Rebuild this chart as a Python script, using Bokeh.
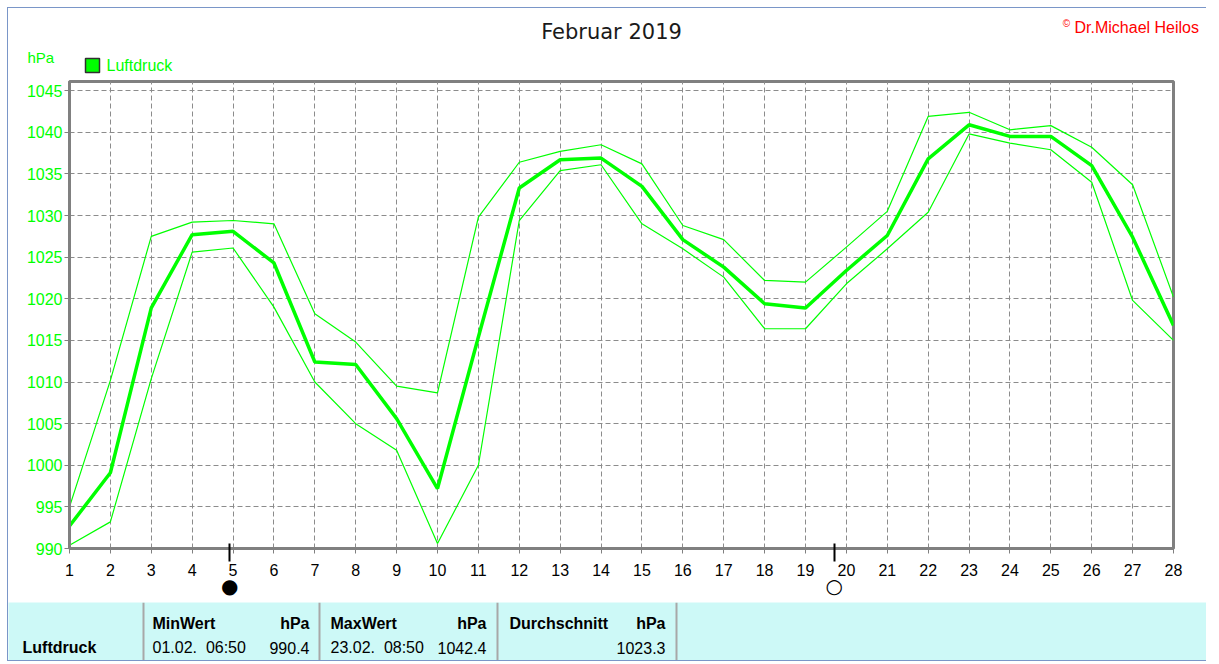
from bokeh.plotting import figure
from bokeh.models import Range1d, FixedTicker, LinearAxis, Span
from bokeh.layouts import column
from bokeh.embed import file_html
from bokeh.resources import INLINE
from bokeh.core.properties import value

# ---------------- data ----------------
days = list(range(1, 29))
p_mean = [992.7, 999.1, 1018.9, 1027.7, 1028.1, 1024.3, 1012.4, 1012.1, 1005.6, 997.2,
          1015.4, 1033.3, 1036.7, 1036.9, 1033.5, 1027.1, 1023.8, 1019.4, 1018.9, 1023.4,
          1027.6, 1036.8, 1040.9, 1039.5, 1039.5, 1036.0, 1027.4, 1016.8]
p_max = [995.0, 1010.2, 1027.5, 1029.2, 1029.4, 1029.0, 1018.2, 1014.8, 1009.5, 1008.7,
         1029.8, 1036.4, 1037.7, 1038.5, 1036.2, 1028.8, 1027.1, 1022.2, 1022.0, 1026.2,
         1030.5, 1041.9, 1042.4, 1040.3, 1040.8, 1038.2, 1033.7, 1020.2]
p_min = [990.4, 993.2, 1010.4, 1025.6, 1026.1, 1019.0, 1010.0, 1005.0, 1001.8, 990.6,
         1000.0, 1029.4, 1035.4, 1036.1, 1029.0, 1026.0, 1022.6, 1016.4, 1016.4, 1021.8,
         1026.0, 1030.4, 1039.8, 1038.7, 1037.9, 1034.0, 1019.8, 1015.0]
y_ticks = [990, 995, 1000, 1005, 1010, 1015, 1020, 1025, 1030, 1035, 1040, 1045]
moon_days = [4.92, 19.70]          # new moon, full moon
moon_symbols = ["\u25cf", "\u25cb"]

title_text = "Februar 2019"
unit_text = "hPa"
series_name = "Luftdruck"
copyright_text = "Dr.Michael Heilos"

tbl_headers = ["MinWert", "MaxWert", "Durchschnitt"]
tbl_times = ["01.02.\u00a0 06:50", "23.02.\u00a0 08:50", ""]
tbl_values = ["990.4", "1042.4", "1023.3"]

GREEN = "#00ff00"
GRID = "#8c8c8c"
FRAME = "#808080"
FONT = "Liberation Sans"
BLUE = "1px solid #7a96c8"
W = 1198

# ---------------- top strip: title, copyright, unit, legend ----------------
TOPH = 68
top = figure(width=W, height=TOPH, x_range=Range1d(0, W), y_range=Range1d(0, TOPH),
             output_backend="svg", toolbar_location=None, frame_align=False,
             x_axis_location=None, y_axis_location=None, min_border=0)
top.grid.visible = False
top.outline_line_color = None
top.background_fill_color = "white"
top.border_fill_color = "white"

top.text(x=[603], y=[45], text=[title_text], text_font=value("DejaVu Sans"),
         text_font_size="21px", text_color="#1a1a1a", text_align="center",
         text_baseline="middle")
top.text(x=[1058], y=[53], text=["\u00a9"], text_font=value(FONT), text_font_size="10px",
         text_color="#ff0000", text_align="center", text_baseline="middle")
top.text(x=[1066], y=[49], text=[copyright_text], text_font=value(FONT),
         text_font_size="16px", text_color="#ff0000", text_align="left",
         text_baseline="middle")
top.text(x=[19], y=[19], text=[unit_text], text_font=value(FONT), text_font_size="15px",
         text_color=GREEN, text_align="left", text_baseline="middle")
top.rect(x=[84], y=[11], width=14, height=14, fill_color=GREEN, line_color="#303030",
         line_width=1.5)
top.text(x=[98], y=[11], text=[series_name], text_font=value(FONT), text_font_size="16px",
         text_color=GREEN, text_align="left", text_baseline="middle")

# ---------------- main chart ----------------
p = figure(frame_width=1104, frame_height=467, x_range=Range1d(1, 28),
           y_range=Range1d(990, 1046.1), output_backend="svg", toolbar_location=None,
           x_axis_location=None, frame_align=False,
           min_border_left=61, min_border_right=33, min_border_top=5, min_border_bottom=54)
p.background_fill_color = "white"
p.border_fill_color = "white"
p.outline_line_color = FRAME
p.outline_line_width = 3

p.xgrid.ticker = FixedTicker(ticks=days)
p.ygrid.ticker = FixedTicker(ticks=y_ticks)
for g in (p.xgrid, p.ygrid):
    g.grid_line_color = GRID
    g.grid_line_dash = "5 3"
    g.grid_line_width = 1

# axis 1: small grey day ticks (no labels)
ax_ticks = LinearAxis(ticker=FixedTicker(ticks=days), major_tick_in=0, major_tick_out=5,
                      minor_tick_in=0, minor_tick_out=0, major_tick_line_color=FRAME,
                      axis_line_color=FRAME, axis_line_width=3,
                      major_label_text_color=None, major_label_standoff=0)
# axis 2: moon phase tick marks (no labels)
ax_moon = LinearAxis(ticker=FixedTicker(ticks=moon_days), major_tick_in=10, major_tick_out=8,
                     minor_tick_in=0, minor_tick_out=0, major_tick_line_color="black",
                     major_tick_line_width=2, axis_line_color=None,
                     major_label_text_color=None, major_label_standoff=0)
# axis 3: day labels
ax_days = LinearAxis(ticker=FixedTicker(ticks=days), major_tick_in=0, major_tick_out=0,
                     minor_tick_in=0, minor_tick_out=0, axis_line_color=None,
                     major_label_text_font=FONT, major_label_text_font_size="16px",
                     major_label_text_color="black", major_label_standoff=2)
# axis 4: moon phase symbols
ax_sym = LinearAxis(ticker=FixedTicker(ticks=moon_days), major_tick_in=0, major_tick_out=0,
                    minor_tick_in=0, minor_tick_out=0, axis_line_color=None,
                    major_label_overrides=dict(zip(moon_days, moon_symbols)),
                    major_label_text_font="DejaVu Sans", major_label_text_font_size="20px",
                    major_label_text_font_style="bold",
                    major_label_text_color="black", major_label_standoff=-5)
for ax in (ax_ticks, ax_moon, ax_days, ax_sym):
    p.add_layout(ax, "below")

p.yaxis.ticker = FixedTicker(ticks=y_ticks)
p.yaxis.major_label_text_font = FONT
p.yaxis.major_label_text_font_size = "16px"
p.yaxis.major_label_text_color = GREEN
p.yaxis.major_tick_out = 5
p.yaxis.major_tick_in = 0
p.yaxis.minor_tick_out = 0
p.yaxis.minor_tick_in = 0
p.yaxis.major_tick_line_color = FRAME
p.yaxis.axis_line_color = FRAME
p.yaxis.axis_line_width = 3
p.yaxis.major_label_standoff = 2

p.line(days, p_max, line_color=GREEN, line_width=1.2)
p.line(days, p_min, line_color=GREEN, line_width=1.2)
p.line(days, p_mean, line_color=GREEN, line_width=3.5)

# ---------------- statistics table ----------------
TH = 58
t = figure(width=W, height=TH, x_range=Range1d(0, W), y_range=Range1d(0, TH),
           output_backend="svg", toolbar_location=None, frame_align=False,
           x_axis_location=None, y_axis_location=None, min_border=0)
t.grid.visible = False
t.outline_line_color = None
t.background_fill_color = "#cdf9f7"
t.border_fill_color = "white"

for xs in (135, 311, 489, 668):
    t.add_layout(Span(location=xs, dimension="height", line_color="#a8a8a8", line_width=2))

ROW1, ROW2 = 37, 13
col_left = [144, 322, 501]
col_right = [301, 478, 657]

t.text(x=[14], y=[ROW2], text=[series_name], text_font=value(FONT), text_font_size="16px",
       text_font_style="bold", text_color="black", text_align="left", text_baseline="middle")
t.text(x=col_left, y=[ROW1] * 3, text=tbl_headers, text_font=value(FONT),
       text_font_size="16px", text_font_style="bold", text_color="black",
       text_align="left", text_baseline="middle")
t.text(x=col_right, y=[ROW1] * 3, text=[unit_text] * 3, text_font=value(FONT),
       text_font_size="16px", text_font_style="bold", text_color="black",
       text_align="right", text_baseline="middle")
t.text(x=col_left, y=[ROW2] * 3, text=tbl_times, text_font=value(FONT),
       text_font_size="16px", text_color="black", text_align="left", text_baseline="middle")
t.text(x=col_right, y=[ROW2] * 3, text=tbl_values, text_font=value(FONT),
       text_font_size="16px", text_color="black", text_align="right", text_baseline="middle")

layout = column(top, p, t, spacing=0,
                styles={"margin-left": "7px", "margin-top": "7px",
                        "border-left": BLUE, "border-top": BLUE, "border-bottom": BLUE})

open("out.html", "w").write(file_html(layout, INLINE))
